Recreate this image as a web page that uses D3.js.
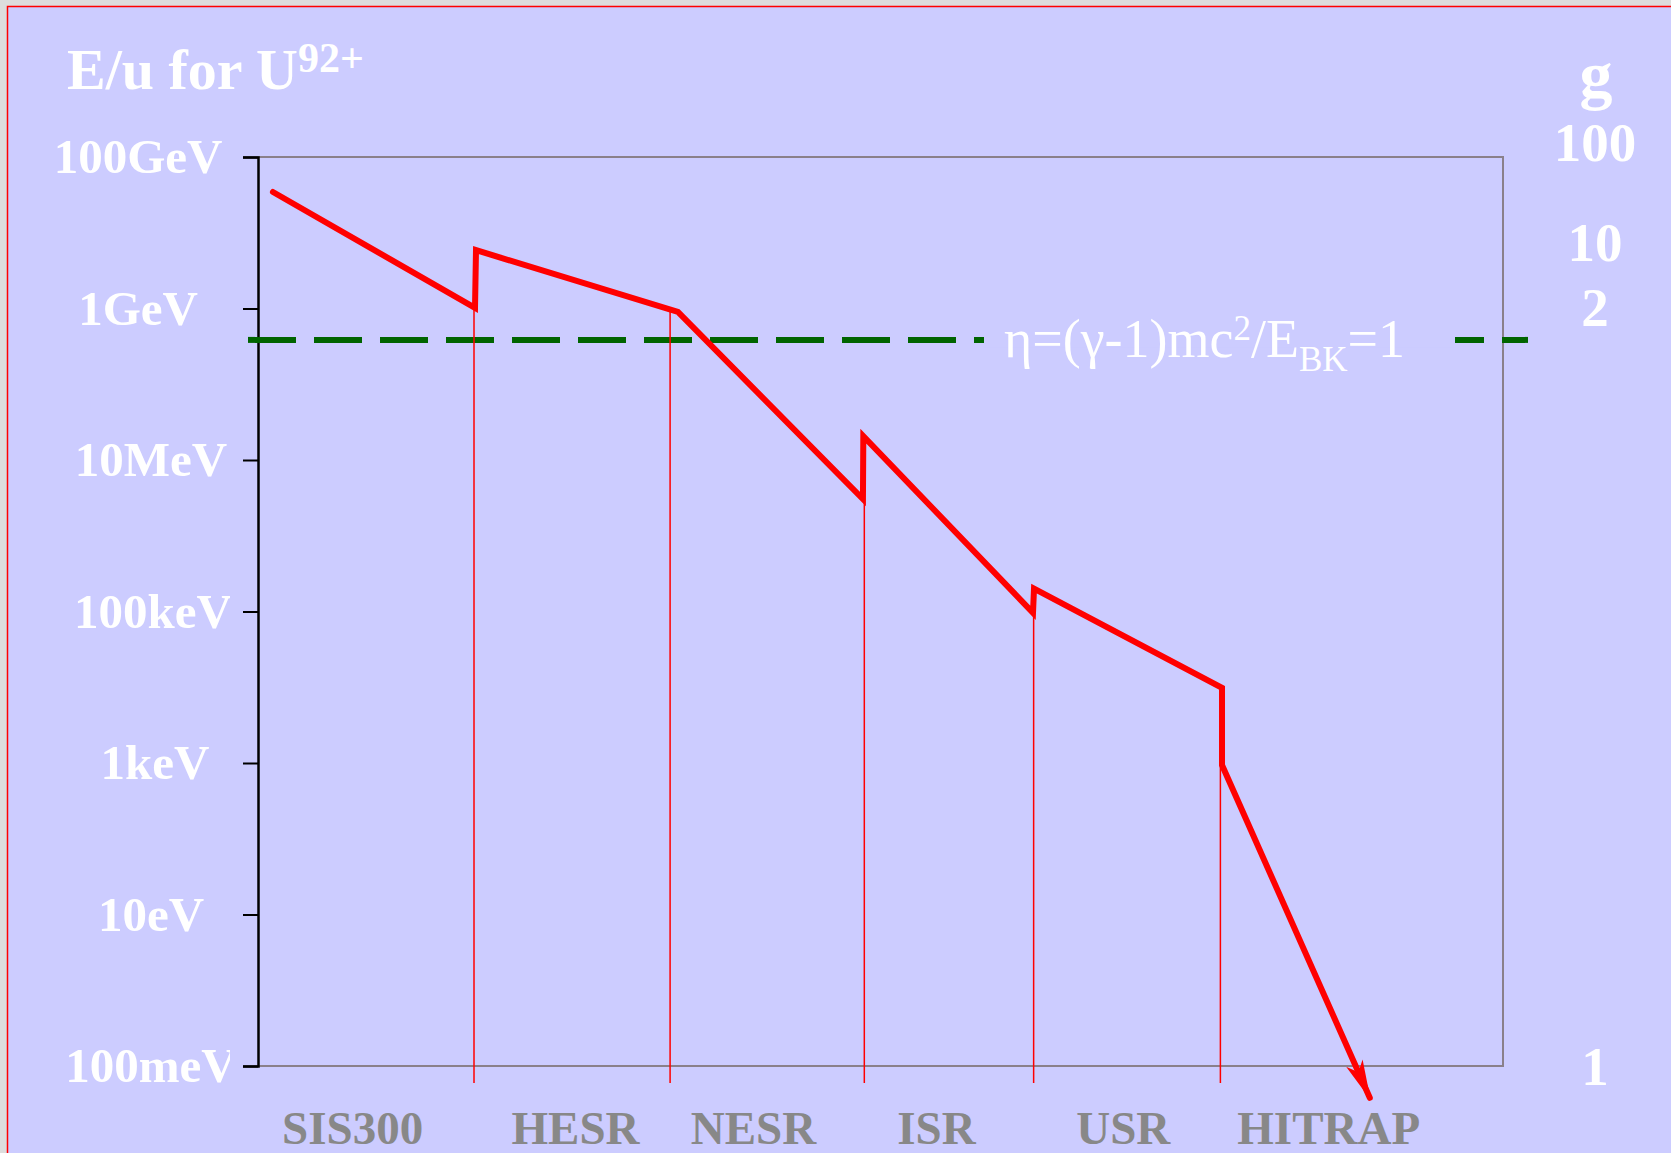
<!DOCTYPE html>
<html>
<head>
<meta charset="utf-8">
<script src="https://cdn.jsdelivr.net/npm/d3@7"></script>
<style>
  body { margin: 0; background: #dddddd; }
  svg { display: block; }
  text { font-family: "Liberation Serif", "Times New Roman", serif; }
</style>
</head>
<body>
<div id="chart"></div>
<script>
// energy axis (eV per nucleon)
const energyTicks = [1e11, 1e9, 1e7, 1e5, 1e3, 1e1, 1e-1];
const energyLabels = ["100GeV", "1GeV", "10MeV", "100keV", "1keV", "10eV", "100meV"];
// where each label is centred, px left of the axis
const labelOffset = [120, 120, 107, 105, 103, 107, 107];

// gamma labels on the right, energies
const gammaLabels = ["100", "10", "2", "1"];
const gammaEnergy = [1.6e11, 7.5e9, 1.05e9, 1e-1];

// storage rings / stages along the x axis (0..100 = plot width)
const stages = ["SIS300", "HESR", "NESR", "ISR", "USR", "HITRAP"];
const stageCenter = [7.6, 25.5, 39.8, 54.5, 69.5, 86.0];
const stageBoundary = [17.35, 33.1, 48.7, 62.3, 77.3];
const boundaryEnergy = [1.02e9, 9.0e8, 3.05e6, 9.6e4, 9.4e2];

// E/u path of the beam
const curveX = [1.2, 17.43, 17.51, 33.73, 48.59, 48.62, 62.25, 62.33, 77.43, 77.43, 89.3];
const curveE = [3.45e10, 1.02e9, 5.9e9, 9.0e8, 3.05e6, 2.07e7, 9.6e4, 2.0e5, 9.8e3, 9.4e2, 3.8e-2];

// eta = 1 line
const etaEnergy = 3.85e8;

const W = 1671, H = 1153;
const margin = { top: 157, left: 258, right: 168, bottom: 87 };
const width = W - margin.left - margin.right,
  height = H - margin.top - margin.bottom;
const bg = "#ccccff";

const svg = d3.select("#chart").append("svg")
  .attr("width", W).attr("height", H);

// slide frame
svg.append("rect")
  .attr("x", 7.5).attr("y", 6.5)
  .attr("width", W).attr("height", H)
  .attr("fill", bg).attr("stroke", "red").attr("stroke-width", 1.5);

svg.append("clipPath").attr("id", "lblclip")
  .append("rect").attr("x", -260).attr("y", -60).attr("width", 232).attr("height", 120);

// title
const title = svg.append("text")
  .attr("x", 67).attr("y", 89)
  .attr("fill", "white").attr("font-weight", "bold").attr("font-size", 58);
title.append("tspan").text("E/u for U");
title.append("tspan").attr("font-size", 42).attr("dy", -17).text("92+");

const g = svg.append("g")
  .attr("transform", "translate(" + margin.left + "," + margin.top + ")");

const x = d3.scaleLinear().domain([0, 100]).range([0, width]);
const y = d3.scaleLog().domain([1e-1, 1e11]).range([height, 0]);

// frame (top, right, bottom)
g.append("path")
  .attr("d", "M0,0H" + width + "V" + height + "H0")
  .attr("fill", "none").attr("stroke", "#8a808a").attr("stroke-width", 2);

// left axis
const yAxis = g.append("g")
  .call(d3.axisLeft(y).tickValues(energyTicks).tickSize(15)
    .tickFormat((d, i) => energyLabels[i]));
yAxis.select(".domain").attr("stroke", "black").attr("stroke-width", 2.5);
yAxis.selectAll(".tick line").attr("stroke", "black").attr("stroke-width", 2);
yAxis.selectAll(".tick text")
  .attr("x", (d, i) => -labelOffset[i])
  .attr("text-anchor", "middle")
  .attr("fill", "white")
  .attr("font-weight", "bold")
  .attr("font-size", 49)
  .attr("font-family", "Liberation Serif")
  .attr("clip-path", "url(#lblclip)");

// eta = 1 dashed line
const yEta = y(etaEnergy);
g.append("line")
  .attr("x1", -10).attr("x2", 1528 - margin.left)
  .attr("y1", yEta).attr("y2", yEta)
  .attr("stroke", "#006400").attr("stroke-width", 6)
  .attr("stroke-dasharray", "48 18");
g.append("rect")
  .attr("x", 984 - margin.left).attr("y", yEta - 8)
  .attr("width", 1455 - 984).attr("height", 16)
  .attr("fill", bg);

const eta = g.append("text")
  .attr("x", 1004 - margin.left).attr("y", yEta + 17)
  .attr("fill", "white").attr("font-size", 54);
eta.append("tspan").text("η=(γ-1)mc");
eta.append("tspan").attr("font-size", 35).attr("dy", -17).text("2");
eta.append("tspan").attr("dy", 17).text("/E");
eta.append("tspan").attr("font-size", 35).attr("dy", 14).text("BK");
eta.append("tspan").attr("dy", -14).text("=1");

// stage boundaries
g.selectAll(".bound")
  .data(stageBoundary)
  .enter()
  .append("line")
  .attr("x1", d => x(d)).attr("x2", d => x(d))
  .attr("y1", (d, i) => y(boundaryEnergy[i]))
  .attr("y2", height + 17)
  .attr("stroke", "red").attr("stroke-width", 1.5);

// arrow head
svg.append("defs").append("marker")
  .attr("id", "arrow")
  .attr("markerUnits", "userSpaceOnUse")
  .attr("viewBox", "0 0 40 18")
  .attr("refX", 38).attr("refY", 9)
  .attr("markerWidth", 40).attr("markerHeight", 18)
  .attr("orient", "auto")
  .append("path")
  .attr("d", "M0,0L40,9L0,18L10,9Z")
  .attr("fill", "red");

const pts = curveX.map((d, i) => [x(d), y(curveE[i])]);
g.append("path")
  .attr("d", d3.line()(pts))
  .attr("fill", "none")
  .attr("stroke", "red").attr("stroke-width", 6)
  .attr("stroke-linejoin", "miter")
  .attr("stroke-linecap", "round")
  .attr("marker-end", "url(#arrow)");

// stage labels
g.selectAll(".stage")
  .data(stages)
  .enter()
  .append("text")
  .attr("x", (d, i) => x(stageCenter[i]))
  .attr("y", height + 78)
  .attr("text-anchor", "middle")
  .attr("fill", "#888888")
  .attr("font-weight", "bold")
  .attr("font-size", 47)
  .text(d => d);

// gamma scale on the right
g.append("text")
  .attr("x", 1596 - margin.left).attr("y", 97 - margin.top)
  .attr("text-anchor", "middle")
  .attr("fill", "white").attr("font-weight", "bold").attr("font-size", 66)
  .text("g");

g.selectAll(".gamma")
  .data(gammaLabels)
  .enter()
  .append("text")
  .attr("x", 1595 - margin.left)
  .attr("y", (d, i) => y(gammaEnergy[i]))
  .attr("dy", "0.35em")
  .attr("text-anchor", "middle")
  .attr("fill", "white").attr("font-weight", "bold").attr("font-size", 55)
  .text(d => d);
</script>
</body>
</html>
